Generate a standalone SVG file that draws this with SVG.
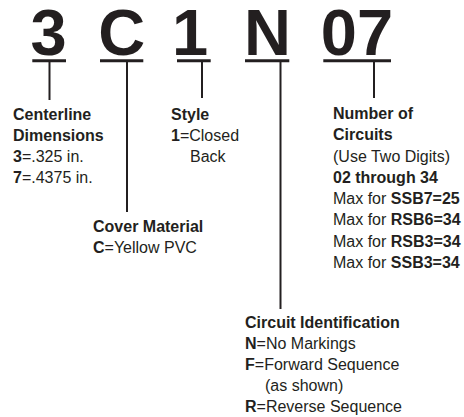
<svg xmlns="http://www.w3.org/2000/svg" width="464" height="417" viewBox="0 0 464 417">
<style>
.big{font-family:"Liberation Sans",Arial,sans-serif;font-weight:bold;font-size:65px;fill:#231f20;text-anchor:middle}
.t{font-family:"Liberation Sans",Arial,sans-serif;font-size:16px;fill:#231f20}
.b{font-weight:bold}
.ul{stroke:#231f20;stroke-width:3;fill:none}
.vl{stroke:#231f20;stroke-width:2;fill:none}
</style>
<rect width="464" height="417" fill="#fff"/>
<g id="code">
<text class="big" x="48.5" y="55">3</text>
<text class="big" x="121.7" y="55">C</text>
<text class="big" x="190" y="55">1</text>
<text class="big" x="267.5" y="55">N</text>
<text class="big" x="357" y="55">07</text>
</g>
<g id="connectors">
<line class="ul" x1="32.3" y1="60.8" x2="66" y2="60.8"/>
<line class="ul" x1="100" y1="60.8" x2="143.3" y2="60.8"/>
<line class="ul" x1="177" y1="60.8" x2="210.7" y2="60.8"/>
<line class="ul" x1="245" y1="60.8" x2="289.3" y2="60.8"/>
<line class="ul" x1="323.3" y1="60.8" x2="391" y2="60.8"/>
<line class="vl" x1="49.5" y1="62" x2="49.5" y2="100"/>
<line class="vl" x1="127" y1="62" x2="127" y2="212"/>
<line class="vl" x1="202" y1="62" x2="202" y2="98"/>
<line class="vl" x1="280.5" y1="62" x2="280.5" y2="309"/>
<line class="vl" x1="374" y1="62" x2="374" y2="98"/>
</g>
<g id="centerline">
<text class="t b" x="13" y="120">Centerline</text>
<text class="t b" x="13" y="141">Dimensions</text>
<text class="t" x="13" y="162"><tspan class="b">3</tspan>=.325 in.</text>
<text class="t" x="13" y="183"><tspan class="b">7</tspan>=.4375 in.</text>
</g>
<g id="style">
<text class="t b" x="171" y="120">Style</text>
<text class="t" x="171" y="141"><tspan class="b">1</tspan>=Closed</text>
<text class="t" x="190" y="162">Back</text>
</g>
<g id="cover">
<text class="t b" x="93" y="232">Cover Material</text>
<text class="t" x="93" y="253"><tspan class="b">C</tspan>=Yellow PVC</text>
</g>
<g id="circuits">
<text class="t b" x="333" y="119">Number of</text>
<text class="t b" x="333" y="140">Circuits</text>
<text class="t" x="333" y="161.5">(Use Two Digits)</text>
<text class="t b" x="333" y="183">02 through 34</text>
<text class="t" x="333" y="204">Max for <tspan class="b">SSB7=25</tspan></text>
<text class="t" x="333" y="225">Max for <tspan class="b">RSB6=34</tspan></text>
<text class="t" x="333" y="246.5">Max for <tspan class="b">RSB3=34</tspan></text>
<text class="t" x="333" y="268">Max for <tspan class="b">SSB3=34</tspan></text>
</g>
<g id="identification">
<text class="t b" x="245" y="328">Circuit Identification</text>
<text class="t" x="245" y="349"><tspan class="b">N</tspan>=No Markings</text>
<text class="t" x="245" y="370"><tspan class="b">F</tspan>=Forward Sequence</text>
<text class="t" x="265" y="391">(as shown)</text>
<text class="t" x="245" y="412"><tspan class="b">R</tspan>=Reverse Sequence</text>
</g>
</svg>
